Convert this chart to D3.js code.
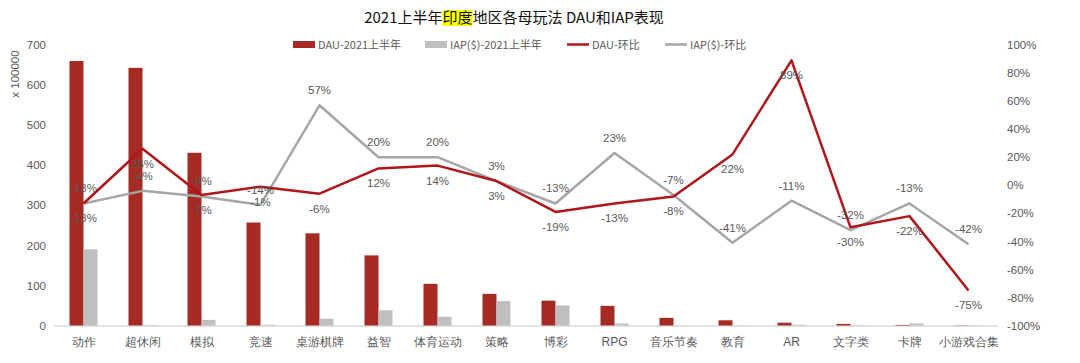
<!DOCTYPE html>
<html><head><meta charset="utf-8">
<script src="https://cdn.jsdelivr.net/npm/d3@7/dist/d3.min.js"></script>
<style>body{margin:0;background:#fff;}svg{display:block;font-family:"Noto Sans CJK SC","Liberation Sans",Arial,sans-serif;}</style>
</head><body><svg id="c" width="1080" height="363"></svg>
<script>
const categories = ["动作","超休闲","模拟","竞速","桌游棋牌","益智","体育运动","策略","博彩","RPG","音乐节奏","教育","AR","文字类","卡牌","小游戏合集"];
const dauValues = [660,643,431,257,230,175,104,79,62,49,19,13,7,4,1.5,0.5];
const iapValues = [190,1,14,2,17,38,22,61,50,5,0.5,0.5,2,1,5,0.5];
const dauChange = [-13,26,-7,-1,-6,12,14,3,-19,-13,-8,22,89,-30,-22,-75];
const iapChange = [-13,-4,-8,-14,57,20,20,3,-13,23,-7,-41,-11,-32,-13,-42];
const leftTicks = [0,100,200,300,400,500,600,700];
const rightTicks = [-100,-80,-60,-40,-20,0,20,40,60,80,100];
const legendLabels = ["DAU-2021上半年","IAP($)-2021上半年","DAU-环比","IAP($)-环比"];

const C = {dau:"#a52a24", iap:"#bfbfbf", dauL:"#b0161b", iapL:"#a6a6a6", text:"#595959"};
const svg = d3.select("#c");
const L = 54, R = 998, T = 45, B = 325.5;

const x = d3.scaleBand().domain(categories).range([L,R]);
const yL = d3.scaleLinear().domain([0,700]).range([B,T]);
const yR = d3.scaleLinear().domain([-100,100]).range([B,T]);

// title
const title = svg.append("text").attr("x",514).attr("y",23).attr("text-anchor","middle")
  .attr("font-size",15).attr("fill","#111");
title.append("tspan").text("2021上半年");
title.append("tspan").text("印度");
title.append("tspan").text("地区各母玩法 DAU和IAP表现");
{
  const tn = title.node();
  const s = tn.getStartPositionOfChar(7), e = tn.getEndPositionOfChar(8);
  svg.insert("rect","text").attr("x",s.x).attr("y",10).attr("width",e.x-s.x).attr("height",16).attr("fill","#ffff00");
}

// axes
const gl = svg.append("g").attr("transform",`translate(${L-8},0)`)
  .call(d3.axisLeft(yL).tickValues(leftTicks).tickSize(0).tickPadding(0));
gl.select(".domain").remove();
gl.selectAll("text").attr("fill",C.text).attr("font-size",11.5).attr("font-family","Liberation Sans,Arial,sans-serif");

const gr = svg.append("g").attr("transform",`translate(${1007},0)`)
  .call(d3.axisRight(yR).tickValues(rightTicks).tickSize(0).tickPadding(0).tickFormat(d=>d+"%"));
gr.select(".domain").remove();
gr.selectAll("text").attr("fill",C.text).attr("font-size",11.5).attr("font-family","Liberation Sans,Arial,sans-serif");

svg.append("text").attr("transform","translate(19,74) rotate(-90)").attr("text-anchor","middle")
  .attr("font-size",11.5).attr("fill",C.text).attr("font-family","Liberation Sans,Arial,sans-serif").text("x 100000");

// baseline
const gx = svg.append("g").attr("transform",`translate(0,${B})`)
  .call(d3.axisBottom(x).tickSize(0).tickPadding(12));
gx.select(".domain").attr("stroke","#d9d9d9").attr("stroke-width",1.5);
gx.selectAll("text").attr("fill",C.text).attr("font-size",12);

const bw = 14;
svg.append("g").selectAll("rect").data(categories).join("rect")
  .attr("x",d=>x(d)+x.bandwidth()/2-bw).attr("width",bw)
  .attr("y",(d,i)=>yL(dauValues[i])).attr("height",(d,i)=>B-yL(dauValues[i])).attr("fill",C.dau);
svg.append("g").selectAll("rect").data(categories).join("rect")
  .attr("x",d=>x(d)+x.bandwidth()/2).attr("width",bw)
  .attr("y",(d,i)=>yL(iapValues[i])).attr("height",(d,i)=>B-yL(iapValues[i])).attr("fill",C.iap);

const cx = d=>x(d)+x.bandwidth()/2;
const line = arr => d3.line().x((d,i)=>cx(categories[i])).y((d)=>yR(d))(arr);
svg.append("path").attr("d",line(iapChange)).attr("fill","none").attr("stroke",C.iapL).attr("stroke-width",2.5).attr("stroke-linejoin","round");
svg.append("path").attr("d",line(dauChange)).attr("fill","none").attr("stroke",C.dauL).attr("stroke-width",2.5).attr("stroke-linejoin","round");

// labels
const lab = svg.append("g").attr("font-size",11.5).attr("fill",C.text).attr("text-anchor","middle").attr("font-family","Liberation Sans,Arial,sans-serif");
categories.forEach((c,i)=>{
  lab.append("text").attr("x",cx(c)).attr("y",yR(iapChange[i])-11).text(iapChange[i]+"%");
  lab.append("text").attr("x",cx(c)).attr("y",yR(dauChange[i])+19).text(dauChange[i]+"%");
});

// legend
const lg = svg.append("g").attr("font-size",11).attr("fill",C.text);
const items = [
  {x:293,type:"rect",c:C.dau,t:legendLabels[0]},
  {x:425,type:"rect",c:C.iap,t:legendLabels[1]},
  {x:567,type:"line",c:C.dauL,t:legendLabels[2]},
  {x:665,type:"line",c:C.iapL,t:legendLabels[3]}
];
items.forEach(it=>{
  if(it.type==="rect") lg.append("rect").attr("x",it.x).attr("y",41).attr("width",22).attr("height",7).attr("fill",it.c);
  else lg.append("line").attr("x1",it.x).attr("x2",it.x+22).attr("y1",44.5).attr("y2",44.5).attr("stroke",it.c).attr("stroke-width",2.5);
  lg.append("text").attr("x",it.x+25).attr("y",48.5).text(it.t);
});
</script></body></html>
